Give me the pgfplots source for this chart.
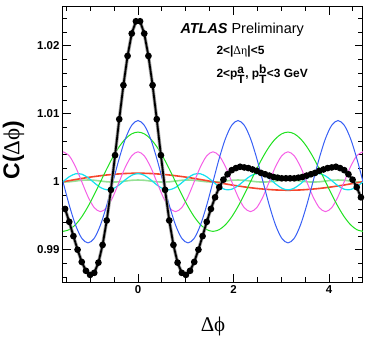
\documentclass[border=0pt]{standalone}
\usepackage{fontspec}
\setmainfont{Liberation Sans}
\newfontfamily\gr{Liberation Serif}
\usepackage{pgfplots}
\usepackage{pgfplotstable}
\pgfplotsset{compat=1.18}

\definecolor{hred}{RGB}{245,70,45}
\definecolor{hlgreen}{RGB}{150,225,150}
\definecolor{hgreen}{RGB}{30,225,30}
\definecolor{hmag}{RGB}{245,95,230}
\definecolor{hblue}{RGB}{55,95,245}
\definecolor{hcyan}{RGB}{20,225,240}

% harmonic components n=1..6
\pgfplotstableread{
x h1 h2 h3 h4 h5 h6
-1.5708 1.00000 0.99270 1.00000 1.00440 1.00000 0.99995
-1.4399 1.00016 0.99295 0.99656 1.00381 1.00073 0.99999
-1.3090 1.00032 0.99368 0.99364 1.00220 1.00116 1.00010
-1.1781 1.00048 0.99484 0.99168 1.00000 1.00111 1.00021
-1.0472 1.00063 0.99635 0.99100 0.99780 1.00060 1.00025
-0.9163 1.00076 0.99811 0.99168 0.99619 0.99984 1.00021
-0.7854 1.00088 1.00000 0.99364 0.99560 0.99915 1.00010
-0.6545 1.00099 1.00189 0.99656 0.99619 0.99881 0.99999
-0.5236 1.00108 1.00365 1.00000 0.99780 0.99896 0.99995
-0.3927 1.00115 1.00516 1.00344 1.00000 0.99954 0.99999
-0.2618 1.00121 1.00632 1.00636 1.00220 1.00031 1.00010
-0.1309 1.00124 1.00705 1.00831 1.00381 1.00095 1.00021
0.0000 1.00125 1.00730 1.00900 1.00440 1.00120 1.00025
0.1309 1.00124 1.00705 1.00831 1.00381 1.00095 1.00021
0.2618 1.00121 1.00632 1.00636 1.00220 1.00031 1.00010
0.3927 1.00115 1.00516 1.00344 1.00000 0.99954 0.99999
0.5236 1.00108 1.00365 1.00000 0.99780 0.99896 0.99995
0.6545 1.00099 1.00189 0.99656 0.99619 0.99881 0.99999
0.7854 1.00088 1.00000 0.99364 0.99560 0.99915 1.00010
0.9163 1.00076 0.99811 0.99168 0.99619 0.99984 1.00021
1.0472 1.00063 0.99635 0.99100 0.99780 1.00060 1.00025
1.1781 1.00048 0.99484 0.99168 1.00000 1.00111 1.00021
1.3090 1.00032 0.99368 0.99364 1.00220 1.00116 1.00010
1.4399 1.00016 0.99295 0.99656 1.00381 1.00073 0.99999
1.5708 1.00000 0.99270 1.00000 1.00440 1.00000 0.99995
1.7017 0.99984 0.99295 1.00344 1.00381 0.99927 0.99999
1.8326 0.99968 0.99368 1.00636 1.00220 0.99884 1.00010
1.9635 0.99952 0.99484 1.00831 1.00000 0.99889 1.00021
2.0944 0.99938 0.99635 1.00900 0.99780 0.99940 1.00025
2.2253 0.99924 0.99811 1.00831 0.99619 1.00016 1.00021
2.3562 0.99912 1.00000 1.00636 0.99560 1.00085 1.00010
2.4871 0.99901 1.00189 1.00344 0.99619 1.00119 0.99999
2.6180 0.99892 1.00365 1.00000 0.99780 1.00104 0.99995
2.7489 0.99885 1.00516 0.99656 1.00000 1.00046 0.99999
2.8798 0.99879 1.00632 0.99364 1.00220 0.99969 1.00010
3.0107 0.99876 1.00705 0.99168 1.00381 0.99905 1.00021
3.1416 0.99875 1.00730 0.99100 1.00440 0.99880 1.00025
3.2725 0.99876 1.00705 0.99168 1.00381 0.99905 1.00021
3.4034 0.99879 1.00632 0.99364 1.00220 0.99969 1.00010
3.5343 0.99885 1.00516 0.99656 1.00000 1.00046 0.99999
3.6652 0.99892 1.00365 1.00000 0.99780 1.00104 0.99995
3.7961 0.99901 1.00189 1.00344 0.99619 1.00119 0.99999
3.9270 0.99912 1.00000 1.00636 0.99560 1.00085 1.00010
4.0579 0.99924 0.99811 1.00831 0.99619 1.00016 1.00021
4.1888 0.99938 0.99635 1.00900 0.99780 0.99940 1.00025
4.3197 0.99952 0.99484 1.00831 1.00000 0.99889 1.00021
4.4506 0.99968 0.99368 1.00636 1.00220 0.99884 1.00010
4.5815 0.99984 0.99295 1.00344 1.00381 0.99927 0.99999
4.7124 1.00000 0.99270 1.00000 1.00440 1.00000 0.99995
}\harm

% measured correlation
\pgfplotstableread{
x c
-1.5272 0.9960
-1.4399 0.9941
-1.3526 0.9920
-1.2654 0.9900
-1.1781 0.9882
-1.0908 0.9869
-1.0036 0.9863
-0.9163 0.9866
-0.8290 0.9881
-0.7418 0.9907
-0.6545 0.9943
-0.5672 0.9988
-0.4800 1.0039
-0.3927 1.0092
-0.3054 1.0142
-0.2182 1.0185
-0.1309 1.0218
-0.0436 1.0236
0.0436 1.0236
0.1309 1.0218
0.2182 1.0185
0.3054 1.0142
0.3927 1.0092
0.4800 1.0039
0.5672 0.9988
0.6545 0.9943
0.7418 0.9907
0.8290 0.9881
0.9163 0.9866
1.0036 0.9863
1.0908 0.9869
1.1781 0.9882
1.2654 0.9900
1.3526 0.9920
1.4399 0.9941
1.5272 0.9960
1.6144 0.9977
1.7017 0.9992
1.7890 1.0003
1.8762 1.0011
1.9635 1.0017
2.0508 1.0020
2.1380 1.0022
2.2253 1.0021
2.3126 1.0020
2.3998 1.0018
2.4871 1.0016
2.5744 1.0013
2.6616 1.0011
2.7489 1.0009
2.8362 1.0007
2.9234 1.0006
3.0107 1.0005
3.0980 1.0005
3.1852 1.0005
3.2725 1.0005
3.3598 1.0006
3.4470 1.0007
3.5343 1.0009
3.6216 1.0011
3.7088 1.0013
3.7961 1.0016
3.8834 1.0018
3.9706 1.0020
4.0579 1.0021
4.1452 1.0022
4.2324 1.0020
4.3197 1.0017
4.4070 1.0011
4.4942 1.0003
4.5815 0.9992
4.6688 0.9977
}\cdata

\begin{document}
\begin{tikzpicture}
\useasboundingbox (-63bp,-61bp) rectangle (308bp,282bp);
\begin{axis}[scale only axis, width=300bp, height=275bp,
  xmin=-1.5708, xmax=4.7124, ymin=0.98525, ymax=1.0257,
  xtick={0,2,4}, xticklabels={0,2,4},
  minor xtick={-1.5,-1,-0.5,0.5,1,1.5,2.5,3,3.5,4.5},
  ytick={0.99,1,1.01,1.02}, yticklabels={0.99,1,1.01,1.02},
  minor ytick={0.986,0.988,0.992,0.994,0.996,0.998,1.002,1.004,1.006,1.008,1.012,1.014,1.016,1.018,1.022,1.024},
  tick align=inside, major tick length=8bp, minor tick length=4.5bp,
  axis line style={line width=1bp},
  every tick/.style={black, line width=0.8bp},
  tick label style={font=\fontsize{11.5}{12}\selectfont\bfseries},
  xlabel={{\gr Δϕ}},
  ylabel={C({\gr\mdseries Δϕ})},
  every axis x label/.style={at={(axis description cs:0.5,0)}, yshift=-44bp, anchor=center, font=\fontsize{21}{23}\selectfont},
  every axis y label/.style={at={(axis description cs:-0.165,0.48)}, rotate=90, anchor=center, font=\fontsize{23}{25}\selectfont\bfseries},
]
\addplot[hlgreen, line width=1.6bp, smooth] table[x=x,y=h6]{\harm};
\addplot[hred, line width=1.6bp, smooth] table[x=x,y=h1]{\harm};
\addplot[hcyan, line width=1.2bp, smooth] table[x=x,y=h5]{\harm};
\addplot[hmag, line width=1bp, smooth] table[x=x,y=h4]{\harm};
\addplot[hgreen, line width=1bp, smooth] table[x=x,y=h2]{\harm};
\addplot[hblue, line width=1bp, smooth] table[x=x,y=h3]{\harm};
\addplot[black!35, line width=3.4bp] table[x=x,y=c]{\cdata};
\addplot[black, line width=1.8bp, mark=*, mark size=2.4bp] table[x=x,y=c]{\cdata};
\node[anchor=base west, font=\fontsize{14.5}{16}\selectfont] at (axis description cs:0.38,0.905) {\textbf{\textit{ATLAS}} Preliminary};
\node[anchor=base west, font=\fontsize{12}{13}\selectfont\bfseries] at (axis description cs:0.5,0.829) {2<|{\gr\mdseries Δη}|<5};
\node[anchor=base west, font=\fontsize{12}{13}\selectfont\bfseries] at (axis description cs:0.5,0.742) {2<p$^{\textbf{a}}_{\textbf{T}}$, p$^{\textbf{b}}_{\textbf{T}}$<3 GeV};
\end{axis}
\end{tikzpicture}
\end{document}
